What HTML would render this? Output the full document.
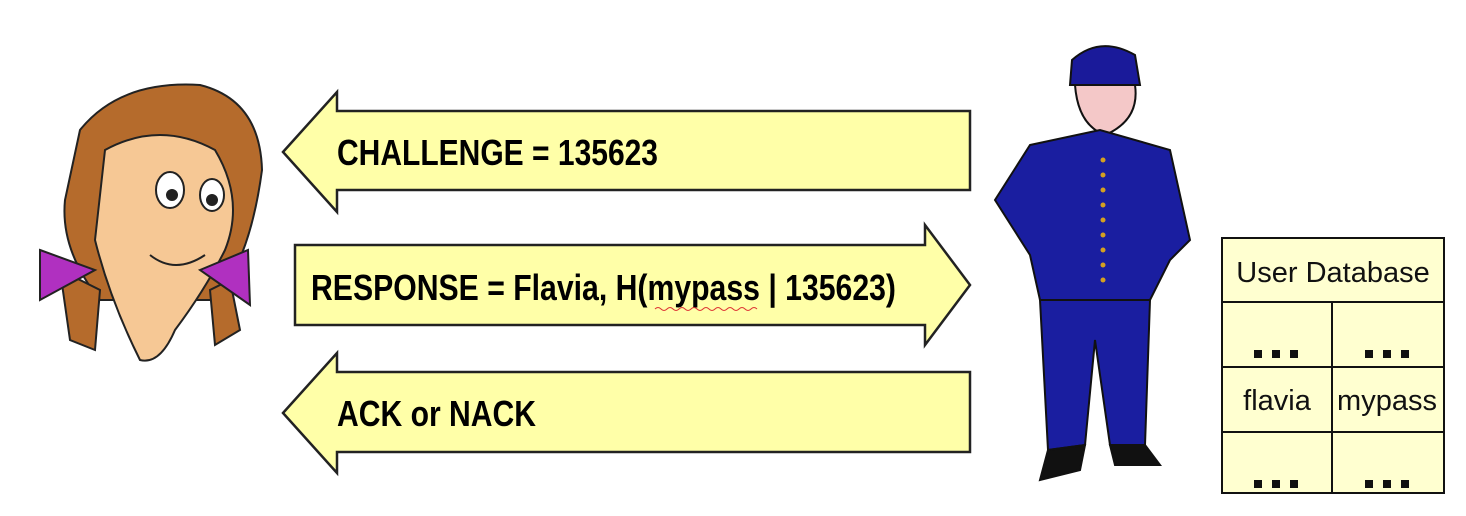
<!DOCTYPE html>
<html><head><meta charset="utf-8"><style>
html,body{margin:0;padding:0;background:#fff;}
svg{display:block;}
.t{font-family:"Liberation Sans Narrow","Liberation Sans",sans-serif;font-weight:bold;font-size:36px;fill:#000;}
.d{font-family:"Liberation Sans",sans-serif;font-size:29px;fill:#111;}
</style></head><body>
<svg width="1466" height="516" viewBox="0 0 1466 516" xmlns="http://www.w3.org/2000/svg">
<!-- arrows -->
<g fill="#ffffa8" stroke="#222" stroke-width="2.5">
<polygon points="283,152 337,92 337,111 970,111 970,190 337,190 337,212"/>
<polygon points="970,285 925,225 925,245 295,245 295,325 925,325 925,345"/>
<polygon points="283,413 337,353 337,372 970,372 970,452 337,452 337,473"/>
</g>
<text class="t" x="337" y="165" textLength="321" lengthAdjust="spacingAndGlyphs">CHALLENGE = 135623</text>
<text class="t" x="311" y="300" textLength="585" lengthAdjust="spacingAndGlyphs">RESPONSE = Flavia, H(mypass | 135623)</text>
<path d="M655,309 q3,-3 6,0 t6,0 t6,0 t6,0 t6,0 t6,0 t6,0 t6,0 t6,0 t6,0 t6,0 t6,0 t6,0 t6,0 t6,0 t6,0 t6,0" stroke="#d33" stroke-width="1" fill="none"/>
<text class="t" x="337" y="426" textLength="199" lengthAdjust="spacingAndGlyphs">ACK or NACK</text>

<!-- table -->
<g fill="#ffffd0" stroke="#111" stroke-width="2">
<rect x="1222" y="238" width="222" height="255"/>
<line x1="1222" y1="302" x2="1444" y2="302"/>
<line x1="1222" y1="367" x2="1444" y2="367"/>
<line x1="1222" y1="432" x2="1444" y2="432"/>
<line x1="1332" y1="302" x2="1332" y2="493"/>
</g>
<text class="d" x="1333" y="282" text-anchor="middle">User Database</text>
<text class="d" x="1277" y="410" text-anchor="middle">flavia</text>
<text class="d" x="1387" y="410" text-anchor="middle">mypass</text>
<g fill="#111">
<rect x="1254" y="350" width="8" height="8"/><rect x="1272" y="350" width="8" height="8"/><rect x="1290" y="350" width="8" height="8"/>
<rect x="1365" y="350" width="8" height="8"/><rect x="1383" y="350" width="8" height="8"/><rect x="1401" y="350" width="8" height="8"/>
<rect x="1254" y="480" width="8" height="8"/><rect x="1272" y="480" width="8" height="8"/><rect x="1290" y="480" width="8" height="8"/>
<rect x="1365" y="480" width="8" height="8"/><rect x="1383" y="480" width="8" height="8"/><rect x="1401" y="480" width="8" height="8"/>
</g>

<!-- girl -->
<g stroke="#222" stroke-width="2">
<path d="M80,130 Q120,80 200,85 Q260,100 262,170 Q250,260 215,300 L100,300 Q60,250 65,200 Z" fill="#b56b2c"/>
<path d="M60,270 L70,340 L95,350 L100,290 Z" fill="#b56b2c"/>
<path d="M210,290 L215,345 L240,330 L230,280 Z" fill="#b56b2c"/>
<path d="M105,150 Q160,120 215,150 Q245,200 225,250 Q205,290 175,330 Q160,365 140,360 Q110,300 95,240 Z" fill="#f6c895"/>
<path d="M40,250 L95,270 L40,300 Z" fill="#b030c0"/>
<path d="M200,270 L248,250 L250,305 Z" fill="#b030c0"/>
<ellipse cx="170" cy="190" rx="14" ry="18" fill="#fff"/>
<ellipse cx="212" cy="195" rx="12" ry="16" fill="#fff"/>
<circle cx="172" cy="195" r="5" fill="#222"/><circle cx="212" cy="200" r="5" fill="#222"/>
<path d="M150,255 Q175,275 205,255" fill="none"/>
</g>

<!-- policeman -->
<g stroke="#111" stroke-width="2">
<path d="M1072,60 Q1100,35 1135,55 L1140,85 L1070,85 Z" fill="#1a1a9a"/>
<path d="M1075,85 L1135,85 Q1140,120 1105,135 Q1078,125 1075,85 Z" fill="#f4c8c8"/>
<path d="M1030,145 L1100,130 L1170,150 L1190,240 L1170,260 L1150,300 L1040,300 L1030,255 L995,200 Z" fill="#1a1ea0"/>
<path d="M1040,300 L1150,300 L1145,445 L1110,445 L1095,340 L1085,445 L1048,450 Z" fill="#1a1ea0"/>
<path d="M1048,450 L1085,445 L1080,470 L1040,480 Z" fill="#111"/>
<path d="M1110,445 L1145,445 L1160,465 L1115,465 Z" fill="#111"/>
</g>
<g fill="#d4a020">
<circle cx="1103" cy="160" r="2.5"/><circle cx="1103" cy="175" r="2.5"/><circle cx="1103" cy="190" r="2.5"/><circle cx="1103" cy="205" r="2.5"/><circle cx="1103" cy="220" r="2.5"/><circle cx="1103" cy="235" r="2.5"/><circle cx="1103" cy="250" r="2.5"/><circle cx="1103" cy="265" r="2.5"/><circle cx="1103" cy="280" r="2.5"/>
</g>
</svg>
</body></html>
